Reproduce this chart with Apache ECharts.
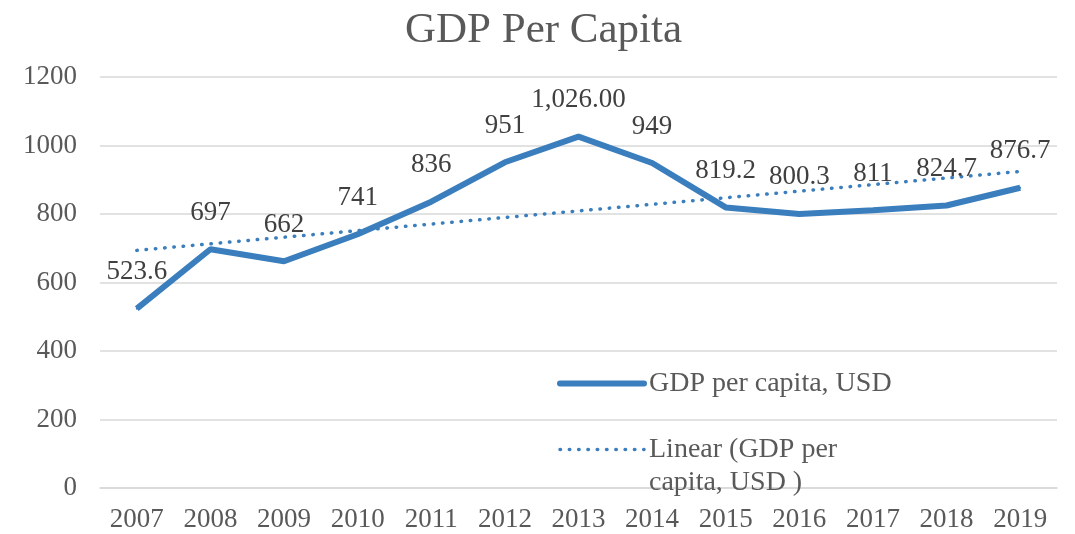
<!DOCTYPE html>
<html>
<head>
<meta charset="utf-8">
<script src="https://cdn.jsdelivr.net/npm/echarts@6/dist/echarts.min.js"></script>
<style>
  html, body { margin: 0; padding: 0; background: #fff; }
  #chart { width: 1075px; height: 534px; }
</style>
</head>
<body>
<div id="chart"></div>
<script>
// data
const years = ['2007', '2008', '2009', '2010', '2011', '2012', '2013', '2014', '2015', '2016', '2017', '2018', '2019']
const gdpPerCapita = [523.6, 697, 662, 741, 836, 951, 1026, 949, 819.2, 800.3, 811, 824.7, 876.7]
// how each label is written in the source chart
const gdpLabels = ['523.6', '697', '662', '741', '836', '951', '1,026.00', '949', '819.2', '800.3', '811', '824.7', '876.7']

const FONT = "'Liberation Serif', 'Times New Roman', serif"
const BLUE = '#3A7EBD'
const TREND_DOTS = [0.5, 8.8]

// linear trendline (least squares), same as the spreadsheet "Linear" trendline
const linearTrend = (ys) => {
    const n = ys.length
    const mx = (n - 1) / 2
    const my = ys.reduce((a, b) => a + b, 0) / n
    let sxy = 0, sxx = 0
    ys.forEach((y, i) => { sxy += (i - mx) * (y - my); sxx += (i - mx) * (i - mx) })
    const k = sxy / sxx
    return ys.map((_, i) => +(my + k * (i - mx)).toFixed(2))
}
const trend = linearTrend(gdpPerCapita)

const chart = echarts.init(document.getElementById('chart'))
chart.setOption({
    animation: false,
    backgroundColor: '#fff',
    title: {
        text: 'GDP Per Capita',
        left: 400,
        top: 4,
        textStyle: { fontFamily: FONT, fontSize: 43, fontWeight: 'normal', color: '#595959' }
    },
    grid: { left: 100, right: 18, top: 77, bottom: 46 },
    legend: {
        orient: 'vertical',
        left: 557,
        top: 367,
        padding: 0,
        itemGap: 0,
        itemWidth: 84,
        itemHeight: 6,
        itemStyle: { opacity: 0 },
        textStyle: { fontFamily: FONT, fontSize: 28, color: '#595959', lineHeight: 33 },
        data: [
            { name: 'GDP per capita, USD', lineStyle: { width: 6, cap: 'round' } },
            { name: 'Linear (GDP per capita, USD )', lineStyle: { width: 3.5, type: TREND_DOTS, cap: 'round' } }
        ],
        // blank first line keeps the icon level with "Linear (GDP per"
        formatter: (name) => name.startsWith('Linear') ? '\nLinear (GDP per\ncapita, USD )' : name
    },
    xAxis: {
        type: 'category',
        data: years,
        boundaryGap: true,
        axisTick: { show: false },
        axisLine: { lineStyle: { color: '#d9d9d9', width: 1.5 } },
        axisLabel: { fontFamily: FONT, fontSize: 27, color: '#595959', margin: 18 }
    },
    yAxis: {
        type: 'value',
        min: 0,
        max: 1200,
        interval: 200,
        axisLine: { show: false },
        axisTick: { show: false },
        splitLine: { lineStyle: { color: '#d9d9d9', width: 1.5 } },
        axisLabel: { fontFamily: FONT, fontSize: 27, color: '#595959', margin: 23, formatter: (v) => String(v) }
    },
    series: [
        {
            name: 'GDP per capita, USD',
            type: 'line',
            data: gdpPerCapita,
            symbol: 'circle',
            symbolSize: 2,
            itemStyle: { color: BLUE },
            lineStyle: { color: BLUE, width: 6 },
            label: {
                show: true,
                position: 'top',
                distance: 22,
                fontFamily: FONT,
                fontSize: 27,
                color: '#404040',
                formatter: (p) => gdpLabels[p.dataIndex]
            },
            z: 3
        },
        {
            name: 'Linear (GDP per capita, USD )',
            type: 'line',
            data: trend,
            symbol: 'none',
            itemStyle: { color: BLUE },
            lineStyle: { color: BLUE, width: 3.5, type: TREND_DOTS, cap: 'round' },
            z: 2
        }
    ]
})
</script>
</body>
</html>
